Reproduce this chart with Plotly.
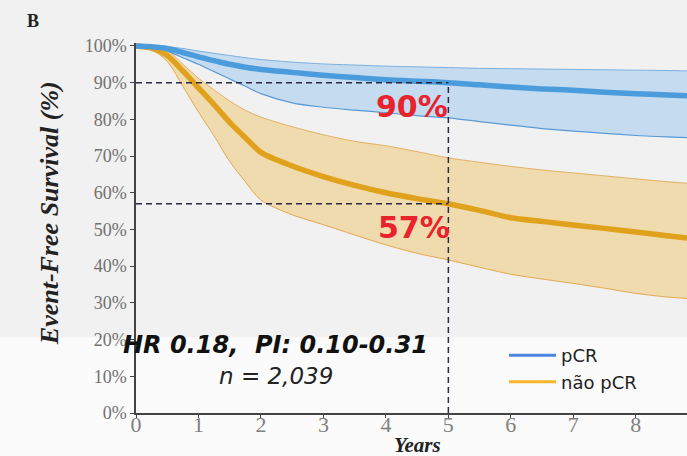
import plotly.graph_objects as go

# ---- data ----
years = [0, 0.25, 0.5, 0.75, 1, 1.25, 1.5, 1.75, 2, 2.5, 3, 3.5, 4, 4.5, 5, 5.5, 6, 6.5, 7, 7.5, 8, 8.5, 8.82]

pcr_mid = [100, 99.8, 99.3, 98.2, 97.0, 96.0, 95.0, 94.2, 93.6, 92.8, 92.0, 91.4, 90.8, 90.4, 90.0, 89.4, 88.8, 88.3, 87.9, 87.4, 87.0, 86.6, 86.4]
pcr_hi = [100, 100, 99.8, 99.3, 98.6, 98.0, 97.4, 96.8, 96.3, 95.6, 95.1, 94.8, 94.5, 94.3, 94.1, 93.9, 93.8, 93.7, 93.6, 93.5, 93.4, 93.3, 93.2]
pcr_lo = [100, 99.6, 98.6, 96.8, 95.0, 93.0, 91.0, 89.0, 87.0, 84.5, 83.3, 82.5, 81.8, 81.0, 80.4, 79.4, 78.4, 77.5, 76.8, 76.2, 75.6, 75.2, 75.0]

npcr_mid = [100, 99.4, 97.4, 93.2, 88.6, 84.0, 79.2, 75.0, 71.0, 67.3, 64.4, 62.0, 60.0, 58.4, 57.0, 55.2, 53.2, 52.2, 51.2, 50.3, 49.3, 48.3, 47.7]
npcr_hi = [100, 99.8, 98.8, 95.0, 91.2, 88.0, 85.0, 82.5, 80.6, 78.0, 75.8, 74.0, 72.8, 71.2, 69.5, 68.3, 67.2, 66.2, 65.4, 64.6, 63.8, 63.0, 62.6]
npcr_lo = [100, 99.0, 95.8, 89.0, 82.0, 75.5, 68.5, 63.0, 58.0, 54.0, 51.3, 48.5, 45.8, 43.5, 41.7, 39.7, 37.8, 36.5, 35.3, 34.0, 32.6, 31.6, 31.2]

landmark_year = 5
landmark_pcr = 90
landmark_npcr = 57

x_ticks = [0, 1, 2, 3, 4, 5, 6, 7, 8]
y_ticks = [0, 10, 20, 30, 40, 50, 60, 70, 80, 90, 100]
y_tick_labels = [f"{v}%" for v in y_ticks]

series_names = ["pCR", "não pCR"]

# ---- figure ----
fig = go.Figure()
sm = 0.8

# não pCR band
fig.add_trace(go.Scatter(x=years, y=npcr_hi, mode="lines",
                         line=dict(color="#e2b060", width=1, shape="spline", smoothing=sm),
                         showlegend=False, hoverinfo="skip"))
fig.add_trace(go.Scatter(x=years, y=npcr_lo, mode="lines", fill="tonexty",
                         fillcolor="rgba(240,205,130,0.6)",
                         line=dict(color="#e2a850", width=1, shape="spline", smoothing=sm),
                         showlegend=False, hoverinfo="skip"))
# pCR band
fig.add_trace(go.Scatter(x=years, y=pcr_hi, mode="lines",
                         line=dict(color="#7ab0e0", width=1, shape="spline", smoothing=sm),
                         showlegend=False, hoverinfo="skip"))
fig.add_trace(go.Scatter(x=years, y=pcr_lo, mode="lines", fill="tonexty",
                         fillcolor="rgba(160,200,238,0.55)",
                         line=dict(color="#5a9ad6", width=1.2, shape="spline", smoothing=sm),
                         showlegend=False, hoverinfo="skip"))

# central curves
fig.add_trace(go.Scatter(x=years, y=npcr_mid, mode="lines",
                         line=dict(color="#e0a11c", width=5.5, shape="spline", smoothing=sm),
                         showlegend=False))
fig.add_trace(go.Scatter(x=years, y=pcr_mid, mode="lines",
                         line=dict(color="#4b9cdc", width=5.5, shape="spline", smoothing=sm),
                         showlegend=False))

# dashed landmark lines
dash_style = dict(color="#2b2b45", width=1.5, dash="6px,4px")
fig.add_trace(go.Scatter(x=[0, landmark_year], y=[landmark_pcr, landmark_pcr], mode="lines",
                         line=dash_style, showlegend=False, hoverinfo="skip"))
fig.add_trace(go.Scatter(x=[0, landmark_year], y=[landmark_npcr, landmark_npcr], mode="lines",
                         line=dash_style, showlegend=False, hoverinfo="skip"))
fig.add_trace(go.Scatter(x=[landmark_year, landmark_year], y=[0, landmark_pcr], mode="lines",
                         line=dash_style, showlegend=False, hoverinfo="skip"))

# legend entries
fig.add_trace(go.Scatter(x=[None], y=[None], mode="lines", name=series_names[0],
                         line=dict(color="#4a86e0", width=3)))
fig.add_trace(go.Scatter(x=[None], y=[None], mode="lines", name=series_names[1],
                         line=dict(color="#f7b52c", width=3)))

serif = "Liberation Serif"
sans = "DejaVu Sans"

annotations = [
    dict(x=4.42, y=83.6, xref="x", yref="y", text="<b>90%</b>", showarrow=False,
         font=dict(family=sans, size=30, color="#e8232b")),
    dict(x=4.45, y=50.6, xref="x", yref="y", text="<b>57%</b>", showarrow=False,
         font=dict(family=sans, size=30, color="#e8232b")),
    dict(x=2.24, y=18.6, xref="x", yref="y", text="<b><i>HR 0.18,&nbsp; PI: 0.10-0.31</i></b>",
         showarrow=False, font=dict(family=sans, size=24, color="#111111")),
    dict(x=2.24, y=10.0, xref="x", yref="y", text="<i>n = 2,039</i>",
         showarrow=False, font=dict(family=sans, size=23, color="#222222")),
    dict(x=4.51, y=-0.125, xref="x", yref="paper", text="<b><i>Years</i></b>",
         showarrow=False, font=dict(family=serif, size=21, color="#222222")),
    dict(x=-0.158, y=0.54, xref="paper", yref="paper", xanchor="center", yanchor="middle",
         text="<b><i>Event-Free Survival (%)</i></b>",
         textangle=-90, showarrow=False, font=dict(family=serif, size=26, color="#222222")),
    dict(x=-0.187, y=1.059, xref="paper", yref="paper", xanchor="center", yanchor="middle",
         text="<b>B</b>",
         showarrow=False, font=dict(family=serif, size=18, color="#222222")),
]

fig.update_layout(
    width=687, height=456,
    margin=dict(l=136, r=0, t=43, b=43),
    paper_bgcolor="#f1f1f1",
    plot_bgcolor="rgba(0,0,0,0)",
    showlegend=True,
    legend=dict(x=0.668, y=0.205, xanchor="left", yanchor="top", traceorder="normal",
                bgcolor="rgba(0,0,0,0)", itemwidth=47,
                font=dict(family=sans, size=18, color="#222222")),
    annotations=annotations,
    shapes=[dict(type="rect", xref="paper", yref="paper", x0=-0.3, x1=1.05, y0=-0.2, y1=0.205,
                 fillcolor="#fbfbfb", line=dict(width=0), layer="below")],
    xaxis=dict(range=[0, 8.82], tickvals=x_ticks, showgrid=False, zeroline=False,
               showline=True, linecolor="#444444", linewidth=1.5,
               ticks="outside", ticklen=3, tickcolor="#444444", ticklabelstandoff=-12,
               tickfont=dict(family=serif, size=22, color="#808080")),
    yaxis=dict(range=[0, 100.8], tickvals=y_ticks, ticktext=y_tick_labels, showgrid=False, zeroline=False,
               showline=True, linecolor="#444444", linewidth=1.5,
               ticks="outside", ticklen=4, tickcolor="#444444",
               tickfont=dict(family=serif, size=18, color="#707070")),
)

fig.write_html("out.html")
